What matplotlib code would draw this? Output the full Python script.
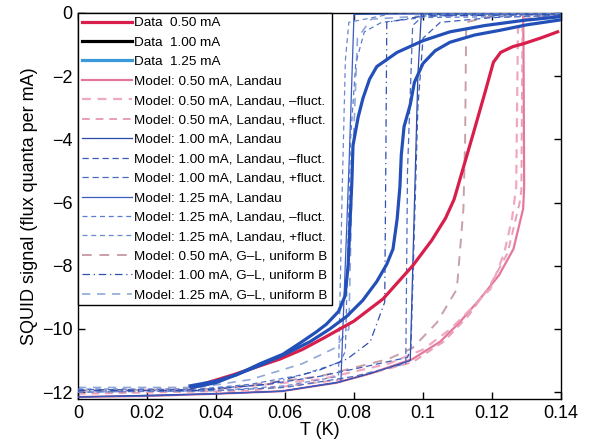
import matplotlib
matplotlib.use('Agg')
import matplotlib.pyplot as plt
from matplotlib.ticker import FixedLocator, FixedFormatter

plt.rcParams['font.family'] = ['Liberation Sans', 'DejaVu Sans']

# measured data (thick lines)
t_d050 = [0.033, 0.045, 0.0586, 0.065, 0.071, 0.080, 0.0884, 0.097, 0.1025, 0.1065, 0.109, 0.1146, 0.118,
          0.1204, 0.1225, 0.126, 0.129, 0.134, 0.139]
s_d050 = [-11.85, -11.45, -10.95, -10.65, -10.3, -9.75, -9.05, -8.0, -7.2, -6.5, -5.9, -3.8, -2.5,
          -1.56, -1.25, -1.07, -0.98, -0.8, -0.6]
t_d100 = [0.033, 0.040, 0.0528, 0.060, 0.0673, 0.073, 0.0779, 0.0825, 0.0866, 0.0895, 0.0913, 0.0925,
          0.0933, 0.0937, 0.0945, 0.0963, 0.0975, 0.100, 0.1035, 0.1078, 0.115, 0.1224, 0.130, 0.140]
s_d100 = [-11.85, -11.7, -11.15, -10.8, -10.4, -10.0, -9.6, -9.1, -8.5, -7.95, -7.47, -6.52,
          -5.5, -4.5, -3.6, -2.9, -2.2, -1.6, -1.2, -0.93, -0.7, -0.55, -0.38, -0.22]
t_d125 = [0.0325, 0.040, 0.046, 0.0528, 0.0594, 0.0643, 0.069, 0.072, 0.0755, 0.0774, 0.0783, 0.0789,
          0.0794, 0.0797, 0.0812, 0.0826, 0.0845, 0.0866, 0.0925, 0.100, 0.1078, 0.118, 0.129, 0.140]
s_d125 = [-11.8, -11.65, -11.45, -11.1, -10.8, -10.45, -10.1, -9.85, -9.45, -8.96, -8.0, -6.5,
          -5.3, -4.2, -3.3, -2.7, -2.1, -1.7, -1.25, -0.88, -0.6, -0.4, -0.24, -0.12]

# model curves
t_m050_land = [0.0, 0.02, 0.04, 0.059, 0.075, 0.085, 0.097, 0.105, 0.1105, 0.1165, 0.122, 0.1262, 0.129,
               0.1293, 0.1291, 0.129, 0.14]
s_m050_land = [-12.15, -12.12, -12.05, -11.97, -11.7, -11.4, -10.95, -10.4, -9.8, -9.05, -8.3, -7.47, -6.2,
               -5.5, -1.0, -0.05, -0.02]
t_m050_minus = [0.0, 0.04, 0.07, 0.09, 0.100, 0.108, 0.1135, 0.1195, 0.1235, 0.1258, 0.127, 0.1275, 0.13, 0.14]
s_m050_minus = [-11.95, -11.9, -11.6, -11.1, -10.65, -10.0, -9.4, -8.74, -7.6, -6.5, -5.5, -0.5, -0.2, -0.1]
t_m050_plus = [0.0, 0.05, 0.08, 0.097, 0.106, 0.113, 0.119, 0.1245, 0.128, 0.1285, 0.1288, 0.14]
s_m050_plus = [-12.05, -11.95, -11.55, -11.05, -10.4, -9.6, -8.7, -7.6, -6.0, -5.6, -0.2, -0.05]
t_m100_land = [0.0, 0.04, 0.059, 0.075, 0.085, 0.0963, 0.0985, 0.0995, 0.14]
s_m100_land = [-12.15, -12.05, -11.97, -11.7, -11.4, -11.0, -2.0, -0.05, -0.02]
t_m100_minus = [0.0, 0.035, 0.055, 0.07, 0.085, 0.0955, 0.0965, 0.0985, 0.100, 0.105, 0.12, 0.14]
s_m100_minus = [-11.92, -11.92, -11.75, -11.5, -11.15, -10.9, -10.6, -3.0, -0.8, -0.3, -0.15, -0.08]
t_m100_plus = [0.0, 0.04, 0.06, 0.08, 0.095, 0.0955, 0.097, 0.10, 0.14]
s_m100_plus = [-12.0, -11.95, -11.85, -11.5, -11.1, -5.0, -0.4, -0.1, -0.03]
t_m125_land = [0.0, 0.02, 0.04, 0.059, 0.0762, 0.0785, 0.080, 0.10, 0.14]
s_m125_land = [-12.15, -12.12, -12.05, -11.97, -11.67, -5.0, -0.05, -0.03, -0.02]
t_m125_minus = [0.0, 0.035, 0.05, 0.065, 0.076, 0.0775, 0.079, 0.0805, 0.083, 0.088, 0.10, 0.14]
s_m125_minus = [-11.9, -11.9, -11.75, -11.45, -11.05, -10.7, -4.0, -1.6, -0.6, -0.3, -0.15, -0.1]
t_m125_plus = [0.0, 0.04, 0.06, 0.0755, 0.0765, 0.0775, 0.0785, 0.09, 0.14]
s_m125_plus = [-12.0, -11.95, -11.8, -11.5, -6.0, -1.5, -0.3, -0.05, -0.02]
t_gl050 = [0.0, 0.04, 0.07, 0.09, 0.097, 0.104, 0.1098, 0.1117, 0.1122, 0.1125, 0.12, 0.14]
s_gl050 = [-11.95, -11.9, -11.5, -10.95, -10.6, -9.8, -8.74, -6.2, -4.0, -0.3, -0.1, -0.05]
t_gl100 = [0.0, 0.035, 0.055, 0.07, 0.078, 0.0847, 0.0889, 0.0892, 0.0895, 0.10, 0.14]
s_gl100 = [-11.95, -11.95, -11.75, -11.3, -10.95, -10.4, -9.15, -5.0, -0.3, -0.1, -0.05]
t_gl125 = [0.0, 0.035, 0.05, 0.065, 0.0745, 0.0785, 0.0795, 0.081, 0.085, 0.10, 0.14]
s_gl125 = [-11.85, -11.85, -11.6, -11.1, -10.6, -10.0, -5.0, -0.8, -0.2, -0.1, -0.05]

xticks = [0, 0.02, 0.04, 0.06, 0.08, 0.1, 0.12, 0.14]
xticklabels = ['0', '0.02', '0.04', '0.06', '0.08', '0.1', '0.12', '0.14']
yticks = [-12, -10, -8, -6, -4, -2, 0]

fig = plt.figure(figsize=(5.9, 4.43), dpi=100)
ax = fig.add_axes([0.132, 0.099, 0.819, 0.872])

# data first in legend order
ax.plot(t_d050, s_d050, color='#d81e4a', lw=2.3, label='Data  0.50 mA', zorder=5)
ax.plot(t_d100, s_d100, color='#2350b8', lw=2.3, label='Data  1.00 mA', zorder=5)
ax.plot(t_d125, s_d125, color='#2350b8', lw=2.3, label='Data  1.25 mA', zorder=5)

ax.plot(t_m050_land, s_m050_land, color='#e0608a', lw=1.6, alpha=0.85, label='Model: 0.50 mA, Landau', zorder=2)
ax.plot(t_m050_minus, s_m050_minus, color='#f0a8c0', lw=1.6, ls=(0, (4, 3)), label='Model: 0.50 mA, Landau, \u2013fluct.', zorder=2)
ax.plot(t_m050_plus, s_m050_plus, color='#e8a0b4', lw=1.4, ls=(0, (4, 3)), label='Model: 0.50 mA, Landau, +fluct.', zorder=2)
ax.plot(t_m100_land, s_m100_land, color='#2a48a8', lw=0.9, label='Model: 1.00 mA, Landau', zorder=3)
ax.plot(t_m100_minus, s_m100_minus, color='#3a5cb8', lw=0.9, ls=(0, (5, 3)), label='Model: 1.00 mA, Landau, \u2013fluct.', zorder=3)
ax.plot(t_m100_plus, s_m100_plus, color='#4a6cc0', lw=0.9, ls=(0, (5, 3)), label='Model: 1.00 mA, Landau, +fluct.', zorder=3)
ax.plot(t_m125_land, s_m125_land, color='#3a5cc0', lw=0.9, label='Model: 1.25 mA, Landau', zorder=3)
ax.plot(t_m125_minus, s_m125_minus, color='#5a7cd0', lw=0.9, ls=(0, (4, 3)), label='Model: 1.25 mA, Landau, \u2013fluct.', zorder=3)
ax.plot(t_m125_plus, s_m125_plus, color='#6a88d0', lw=0.9, ls=(0, (4, 3)), label='Model: 1.25 mA, Landau, +fluct.', zorder=3)
ax.plot(t_gl050, s_gl050, color='#c8a0a8', lw=1.4, ls=(0, (5, 4)), label='Model: 0.50 mA, G\u2013L, uniform B', zorder=2)
ax.plot(t_gl100, s_gl100, color='#3050b0', lw=0.9, ls=(0, (6, 3, 1, 3)), label='Model: 1.00 mA, G\u2013L, uniform B', zorder=3)
ax.plot(t_gl125, s_gl125, color='#90a8d8', lw=1.2, ls=(0, (5, 4)), label='Model: 1.25 mA, G\u2013L, uniform B', zorder=2)

ax.set_xlim(0, 0.14)
ax.set_ylim(-12.22, 0)
ax.xaxis.set_major_locator(FixedLocator(xticks))
ax.xaxis.set_major_formatter(FixedFormatter(xticklabels))
ax.set_yticks(yticks)
ax.tick_params(direction='in', top=True, right=True, labelsize=13, length=5, width=1, pad=4)
for sp in ax.spines.values():
    sp.set_linewidth(1.0)
ax.set_xlabel('T (K)', fontsize=13, labelpad=0)
ax.set_ylabel('SQUID signal (flux quanta per mA)', fontsize=13, labelpad=3)

leg = ax.legend(loc='upper left', borderaxespad=0, fontsize=9.7, handlelength=3.7,
                handletextpad=0.2, labelspacing=0.52, fancybox=False, edgecolor='black',
                framealpha=1, borderpad=0.3)
leg.get_frame().set_linewidth(1.0)
leg.set_zorder(10)
# legend colours as printed in the key
leg.get_lines()[1].set_color('black')
leg.get_lines()[2].set_color('#3a9ad9')

fig.savefig('out.png', dpi=100)
